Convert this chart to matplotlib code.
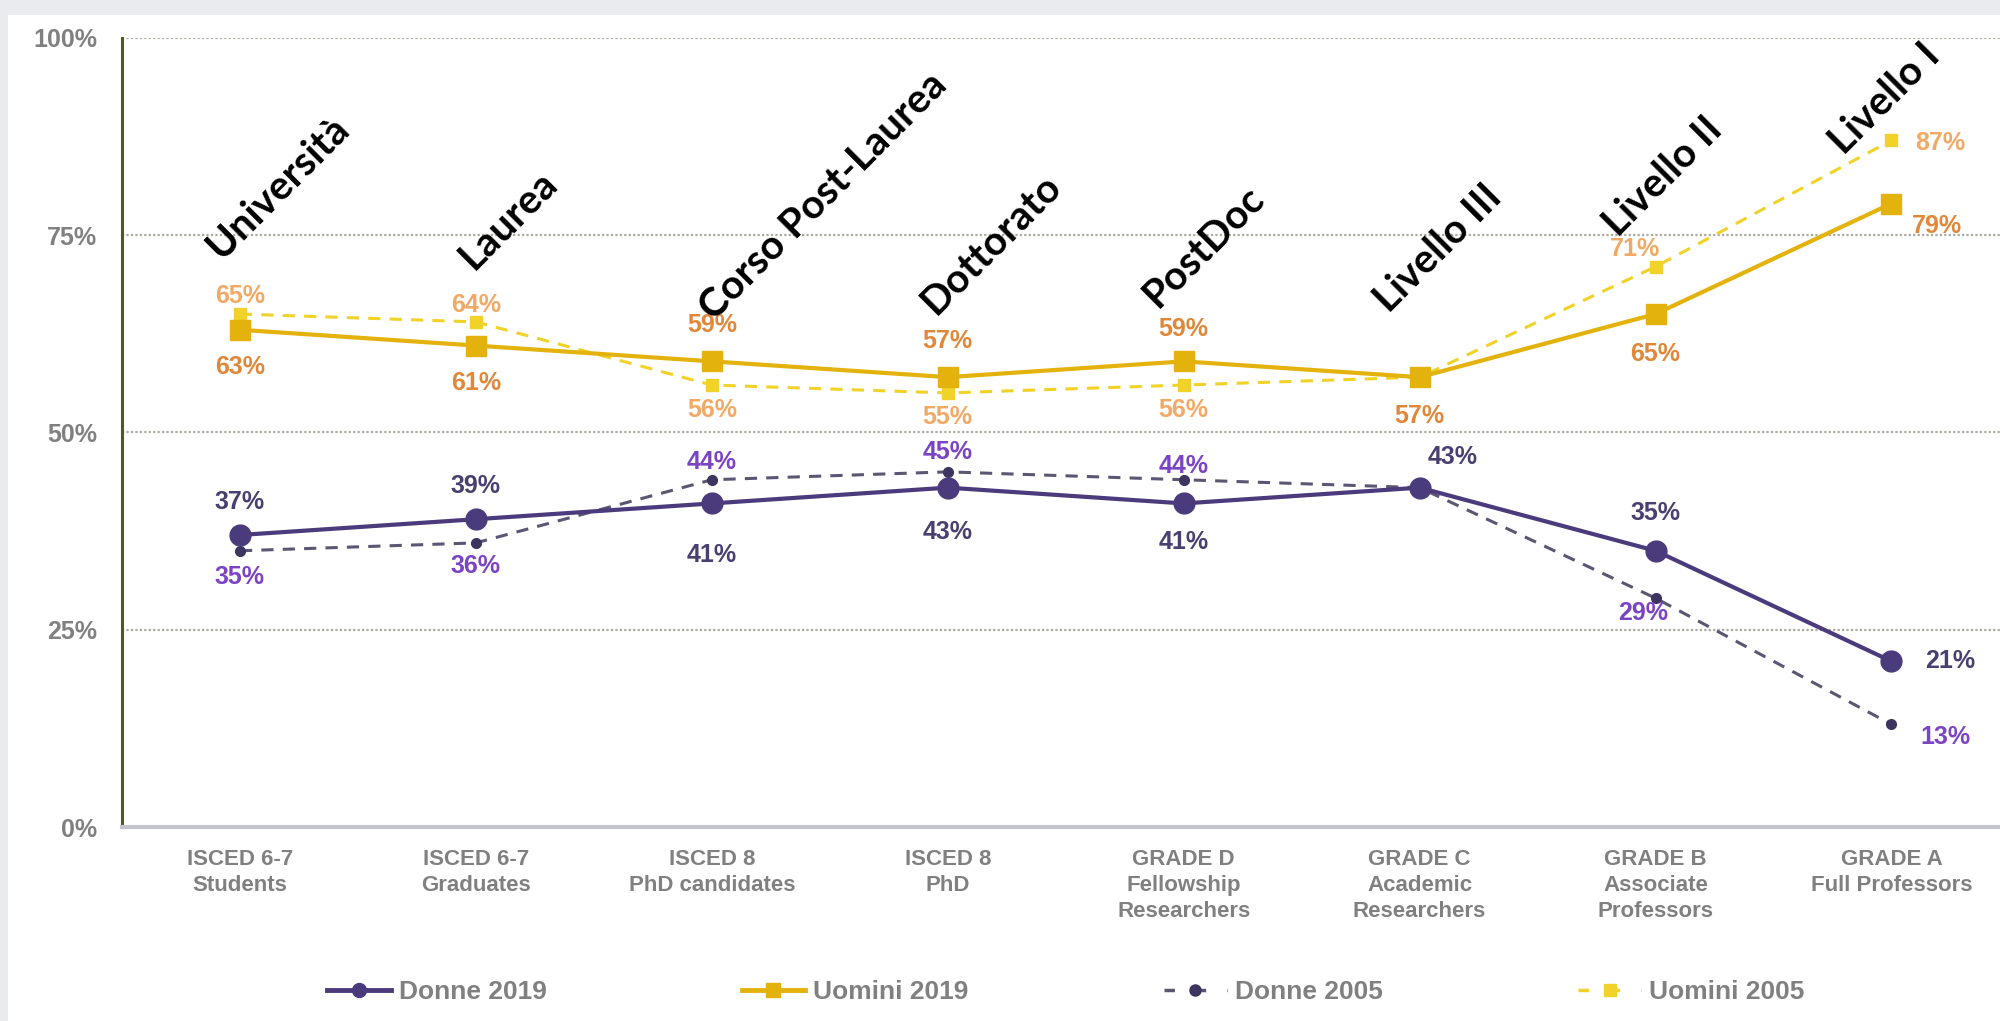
import matplotlib
matplotlib.use("Agg")
import matplotlib.pyplot as plt
from matplotlib import font_manager
from matplotlib.patches import Rectangle
from matplotlib.lines import Line2D

# categories (x axis) and rotated career-stage labels
categories = [
    "ISCED 6-7\nStudents",
    "ISCED 6-7\nGraduates",
    "ISCED 8\nPhD candidates",
    "ISCED 8\nPhD",
    "GRADE D\nFellowship\nResearchers",
    "GRADE C\nAcademic\nResearchers",
    "GRADE B\nAssociate\nProfessors",
    "GRADE A\nFull Professors",
]
stage_names = ["Università", "Laurea", "Corso Post-Laurea", "Dottorato",
               "PostDoc", "Livello III", "Livello II", "Livello I"]

# percentages per series
donne_2019 = [37, 39, 41, 43, 41, 43, 35, 21]
uomini_2019 = [63, 61, 59, 57, 59, 57, 65, 79]
donne_2005 = [35, 36, 44, 45, 44, 43, 29, 13]
uomini_2005 = [65, 64, 56, 55, 56, 57, 71, 87]

# label placement (offsets in points from each marker), None = no label
off_u19 = [(0, -27), (0, -27), (0, 26), (0, 26), (0, 23), (0, -28), (0, -29), (33, -16)]
off_u05 = [(0, 13), (0, 12), (0, -18), (0, -17), (0, -18), None, (-15, 13), (35, -2)]
off_d19 = [(0, 24), (0, 24), (0, -37), (0, -32), (0, -28), (24, 22), (0, 27), (42, 0)]
off_d05 = [(0, -19), (0, -17), (0, 13), (0, 14), (0, 10), None, (-9, -11), (39, -9)]

# anchor points (data coords) of the rotated stage names
stage_pos = [(-0.08, 71.7), (0.99, 70.4), (2.01, 64.0), (2.95, 64.7),
             (3.89, 65.6), (4.87, 65.0), (5.84, 74.6), (6.80, 85.0)]

installed = {f.name for f in font_manager.fontManager.ttflist}
narrow = "Liberation Sans Narrow" if "Liberation Sans Narrow" in installed else "Liberation Sans"

C_D19 = "#4b3b7c"
C_U19 = "#e3b20c"
C_D05 = "#5c5672"
C_U05 = "#f1d228"
T_D19 = "#4a4070"
T_U19 = "#e0873a"
T_D05 = "#7a44c4"
T_U05 = "#f2a965"
GREY = "#808080"

fig = plt.figure(figsize=(20, 10.21), dpi=100)
fig.patch.set_facecolor("#e9ebef")
fig.add_artist(Rectangle((8 / 2000, 0), 1, 1 - 15 / 1021, transform=fig.transFigure,
                         facecolor="white", edgecolor="none", zorder=0))

ax = fig.add_axes([0.061, 0.19, 0.939, 0.773])
ax.set_facecolor("white")
x = list(range(len(categories)))

ax.plot(x, donne_2005, color=C_D05, lw=2.2, dashes=(4, 3), marker="o", ms=7,
        mfc="#3d3560", mec="#3d3560", zorder=3, label="Donne 2005")
ax.plot(x, uomini_2005, color=C_U05, lw=2.2, dashes=(4, 3), marker="s", ms=8,
        mfc=C_U05, mec=C_U05, zorder=3, label="Uomini 2005")
ax.plot(x, donne_2019, color=C_D19, lw=3, marker="o", ms=15, zorder=4, label="Donne 2019")
ax.plot(x, uomini_2019, color=C_U19, lw=3, marker="s", ms=14, zorder=4, label="Uomini 2019")

def put_labels(values, offsets, color):
    for i, (v, off) in enumerate(zip(values, offsets)):
        if off is None:
            continue
        ax.annotate(f"{v}%", xy=(i, v), xytext=off, textcoords="offset points",
                    ha="center", va="center", fontsize=18, color=color,
                    fontweight="bold", family=narrow, zorder=5)

put_labels(uomini_2019, off_u19, T_U19)
put_labels(uomini_2005, off_u05, T_U05)
put_labels(donne_2019, off_d19, T_D19)
put_labels(donne_2005, off_d05, T_D05)

for name, (px, py) in zip(stage_names, stage_pos):
    ax.text(px, py, name, rotation=45, rotation_mode="anchor", ha="left",
            va="baseline", fontsize=29, fontweight="bold", family="Lato",
            color="black", zorder=6)

ax.set_xlim(-0.5, 7.46)
ax.set_ylim(0, 100)
ax.set_yticks([0, 25, 50, 75, 100])
ax.set_yticklabels([f"{t}%" for t in [0, 25, 50, 75, 100]])
ax.set_xticks(x)
ax.set_xticklabels(categories)
ax.tick_params(axis="y", length=0, pad=18, labelsize=18, labelcolor=GREY)
ax.tick_params(axis="x", length=0, pad=16, labelsize=16, labelcolor=GREY)
for lab in ax.get_xticklabels() + ax.get_yticklabels():
    lab.set_fontweight("bold")
    lab.set_family(narrow)
for lab in ax.get_xticklabels():
    lab.set_linespacing(1.3)

for t in [25, 50, 75, 100]:
    ax.axhline(t, color="#aaa9a0", lw=1.6, ls=(0, (1, 1)), zorder=1)

for s in ["top", "right"]:
    ax.spines[s].set_visible(False)
ax.spines["left"].set_color("#4e5a22")
ax.spines["left"].set_linewidth(2.2)
ax.spines["bottom"].set_color("#c6c6cf")
ax.spines["bottom"].set_linewidth(3)

handles = [
    Line2D([], [], color=C_D19, lw=3.5, marker="o", ms=10),
    Line2D([], [], color=C_U19, lw=3.5, marker="s", ms=10),
    Line2D([], [], color=C_D05, lw=2.5, dashes=(3, 6), marker="o", ms=8, mfc="#3d3560", mec="#3d3560"),
    Line2D([], [], color=C_U05, lw=2.5, dashes=(3, 6), marker="s", ms=8),
]
leg = fig.legend(handles, ["Donne 2019", "Uomini 2019", "Donne 2005", "Uomini 2005"],
                 loc="center", bbox_to_anchor=(0.533, 0.028), ncol=4, frameon=False,
                 handlelength=2.4, columnspacing=7.4, handletextpad=0.3,
                 prop={"family": narrow, "weight": "bold", "size": 19})
for t in leg.get_texts():
    t.set_color(GREY)

fig.savefig("out.png", dpi=100, facecolor=fig.get_facecolor())
